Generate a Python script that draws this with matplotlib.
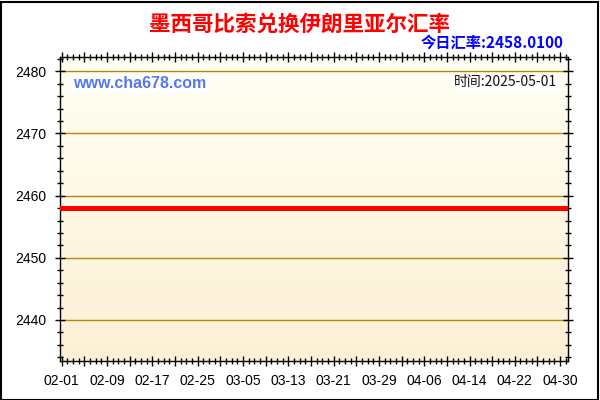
import datetime as dt
import numpy as np
import matplotlib
matplotlib.use("Agg")
import matplotlib.pyplot as plt
from matplotlib.ticker import MultipleLocator, FixedLocator
from matplotlib.patches import Rectangle

# chart data
title = "墨西哥比索兑换伊朗里亚尔汇率"
today_rate = "今日汇率:2458.0100"
site = "www.cha678.com"
stamp = "时间:2025-05-01"

start = dt.date(2025, 2, 1)
dates = [start + dt.timedelta(days=i) for i in range(90)]   # 02-01 .. 05-01
rates = [2458.01] * len(dates)                              # flat line in the chart

y_ticks = [2440, 2450, 2460, 2470, 2480]
x_label_step = 8

plt.rcParams['font.family'] = ['Liberation Sans', 'DejaVu Sans']
cjk = ['Noto Sans CJK SC', 'DejaVu Sans']

fig = plt.figure(figsize=(6, 4), dpi=100)
fig.patch.set_facecolor("white")
ax = fig.add_axes([60 / 600, 1 - 361 / 400, 507.5 / 600, 304 / 400])

x = np.arange(len(dates))
x0, x1 = -0.3, 89.3
y0, y1 = 2433.4, 2482.3

# gradient background, light at top, wheat at bottom
grad = np.linspace(0, 1, 256).reshape(-1, 1)
top = np.array([255, 255, 244]) / 255
bottom = np.array([253, 240, 214]) / 255
img = bottom + (top - bottom) * grad[:, :, None]
ax.imshow(img, aspect="auto", extent=[x0, x1, y0, y1],
          origin="lower", zorder=0)
ax.set_xlim(x0, x1)
ax.set_ylim(y0, y1)

# horizontal grid
for yv in y_ticks:
    ax.axhline(yv, color="#B8860B", lw=1, zorder=1)

ax.plot(x, rates, color="#FF0000", lw=2.2, antialiased=False, zorder=3)

# ticks: long every 4 days, label every 8, short every day
ax.yaxis.set_major_locator(FixedLocator(y_ticks))
ax.yaxis.set_minor_locator(MultipleLocator(2))
major_pos = list(range(0, 90, 4))
ax.set_xticks(major_pos, [dates[i].strftime("%m-%d") if i % x_label_step == 0 else ""
                          for i in major_pos])
ax.xaxis.set_minor_locator(FixedLocator([i for i in range(90) if i % 4]))
ax.set_yticklabels([str(v) for v in y_ticks])
ax.tick_params(which="both", direction="inout", top=True, right=True,
               color="black", width=1, labelsize=10, labelcolor="black")
ax.tick_params(which="major", length=7)
ax.tick_params(which="minor", length=4)
ax.tick_params(axis="x", which="major", pad=6)
ax.tick_params(axis="y", which="major", pad=6)

for s in ax.spines.values():
    s.set_color("black")
    s.set_linewidth(1)

# texts
fig.text(0.5, 1 - 24 / 400, title, color="#FF0000", fontsize=15.5,
         fontweight="bold", family=cjk, ha="center", va="center")
fig.text(563 / 600, 1 - 42.5 / 400, today_rate, color="#0000FF", fontsize=11,
         fontweight="bold", family=cjk, ha="right", va="center")
fig.text(73 / 600, 1 - 84 / 400, site, color="#5577EE", fontsize=11.5,
         fontweight="bold", ha="left", va="center",
         bbox=dict(facecolor="white", edgecolor="none", pad=1.5))
fig.text(557 / 600, 1 - 82 / 400, stamp, color="#111111", fontsize=10,
         family=cjk, ha="right", va="center",
         bbox=dict(facecolor="white", edgecolor="none", pad=1.5))

# outer border
fig.patches.append(Rectangle((0.5 / 600, 0.5 / 400), 597 / 600, 397.5 / 400,
                             transform=fig.transFigure, fill=False,
                             edgecolor="black", lw=1.5))

fig.savefig("out.png", dpi=100)
